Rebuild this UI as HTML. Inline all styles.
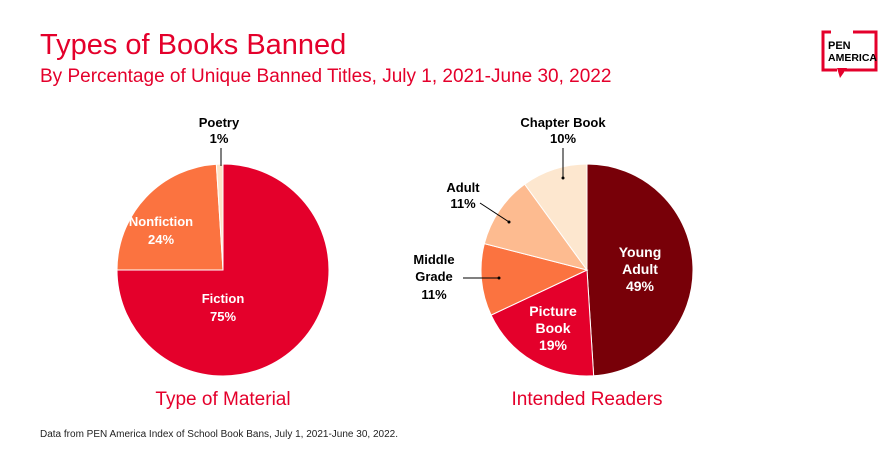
<!DOCTYPE html>
<html><head><meta charset="utf-8"><style>
body{margin:0;width:888px;height:464px;background:#fff;font-family:"Liberation Sans",sans-serif;overflow:hidden}
svg{position:absolute;left:0;top:0}
</style></head><body>
<svg width="888" height="464" id="s">
<text x="40" y="54" font-size="29" fill="#e4002b" font-family="Liberation Sans">Types of Books Banned</text>
<text x="40" y="82" font-size="19" fill="#e4002b">By Percentage of Unique Banned Titles, July 1, 2021-June 30, 2022</text>
<g id="pies"></g>
<g font-weight="bold" font-size="13" text-anchor="middle">
<text x="219" y="127">Poetry</text><text x="219" y="143">1%</text>
<line x1="221" y1="148" x2="221" y2="166" stroke="#000"/>
<text x="161" y="226" fill="#fff">Nonfiction</text><text x="161" y="244" fill="#fff">24%</text>
<text x="223" y="303" fill="#fff">Fiction</text><text x="223" y="321" fill="#fff">75%</text>
<text x="563" y="127">Chapter Book</text><text x="563" y="143">10%</text>
<line x1="563" y1="148" x2="563" y2="178" stroke="#000"/><circle cx="563" cy="178" r="1.5"/>
<text x="463" y="192">Adult</text><text x="463" y="208">11%</text>
<line x1="480" y1="203" x2="509" y2="222" stroke="#000"/><circle cx="509" cy="222" r="1.5"/>
<text x="434" y="264">Middle</text><text x="434" y="281">Grade</text><text x="434" y="299">11%</text>
<line x1="463" y1="278" x2="499" y2="278" stroke="#000"/><circle cx="499" cy="278" r="1.5"/>
<text x="640" y="257" fill="#fff" font-size="14">Young</text><text x="640" y="274" fill="#fff" font-size="14">Adult</text><text x="640" y="291" fill="#fff" font-size="14">49%</text>
<text x="553" y="316" fill="#fff" font-size="14">Picture</text><text x="553" y="333" fill="#fff" font-size="14">Book</text><text x="553" y="350" fill="#fff" font-size="14">19%</text>
</g>
<text x="223" y="405" font-size="19" fill="#e4002b" text-anchor="middle">Type of Material</text>
<text x="587" y="405" font-size="19" fill="#e4002b" text-anchor="middle">Intended Readers</text>
<text x="40" y="437" font-size="10" fill="#222">Data from PEN America Index of School Book Bans, July 1, 2021-June 30, 2022.</text>
<g stroke="#e4002b" stroke-width="3" fill="none">
<path d="M831 32 H823 V70 H837 M845 70 H876 V32 H853"/>
</g>
<path d="M837 68 L840 78 L847 68 Z" fill="#e4002b"/>
<text x="828" y="49" font-size="11" font-weight="bold">PEN</text>
<text x="828" y="61" font-size="10.5" font-weight="bold">AMERICA</text>
</svg>
<script>
function pie(cx,cy,r,data){var a=0,g=document.getElementById('pies'),s='';
data.forEach(function(d){var a0=a/100*2*Math.PI,a1=(a+d[0])/100*2*Math.PI;a+=d[0];
var x0=cx+r*Math.sin(a0),y0=cy-r*Math.cos(a0),x1=cx+r*Math.sin(a1),y1=cy-r*Math.cos(a1);
s+='<path d="M'+cx+' '+cy+' L'+x0+' '+y0+' A'+r+' '+r+' 0 '+(d[0]>50?1:0)+' 1 '+x1+' '+y1+' Z" fill="'+d[1]+'" stroke="#fff" stroke-width="1"/>';});
g.innerHTML+=s;}
pie(223,270,106,[[75,'#e4002b'],[24,'#fb7340'],[1,'#fde3c8']]);
pie(587,270,106,[[49,'#780008'],[19,'#e4002b'],[11,'#fb7340'],[11,'#fdbb90'],[10,'#fde7cf']]);
</script>
</body></html>
